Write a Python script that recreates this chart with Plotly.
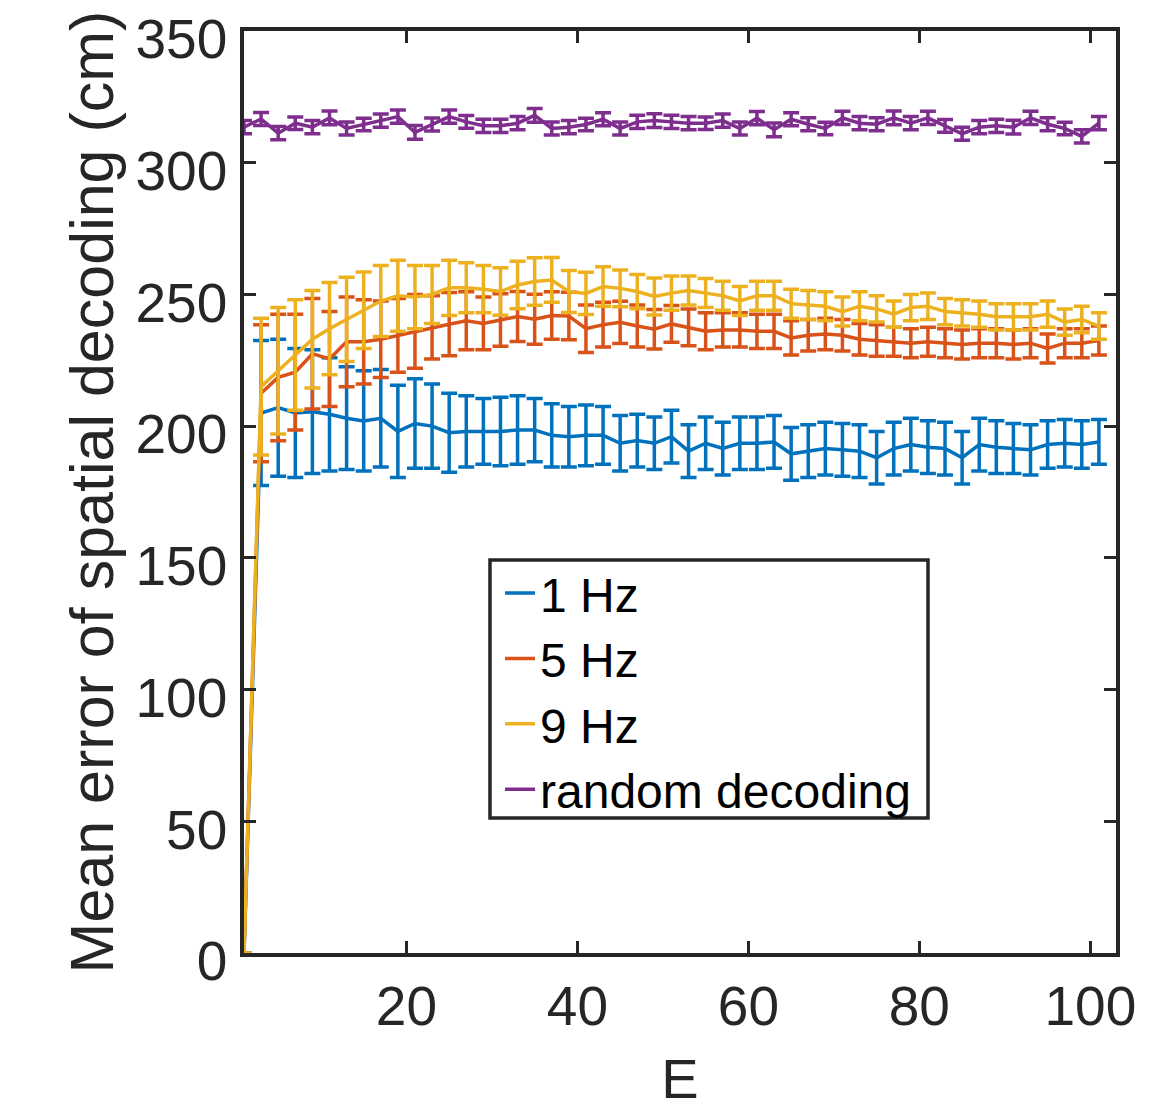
import plotly.graph_objects as go

E = list(range(1, 102, 2))

hz1_mean = [0, 205, 207, 205, 205.5, 204.5, 203, 202, 203, 198, 201, 200, 197.5, 198, 198, 198,
            198.5, 198.5, 196.5, 196, 196.5, 196.5, 193.5, 194.5, 193.5, 196, 190.5, 193.5, 191.5,
            193.5, 193.5, 194, 189.5, 190.5, 191.5, 191, 190.5, 188, 191.5, 193, 192, 191.5, 188,
            193, 192, 191.5, 191, 193, 193.5, 193, 194]
hz1_err = [0, 27.5, 26, 24.5, 23.5, 21.5, 19.5, 19, 18.5, 17.5, 17, 16, 15, 13.5, 12.5, 13, 13, 12,
           12, 11.5, 11.5, 11, 10.5, 10, 10, 10, 10, 10, 10, 10, 10, 10, 10, 10, 10, 10, 10, 10, 10,
           10, 10, 10, 10, 10, 10, 9.5, 9.5, 9, 9, 9, 8.5]

hz5_mean = [0, 212.5, 218.5, 220.5, 227.5, 225.5, 232, 232, 233, 234.5, 236, 237.5, 238.7, 240, 239,
            240.3, 241.6, 240.6, 242, 241.8, 237, 238.5, 239.4, 238, 236.8, 238.8, 237.5, 236, 236.5,
            236.5, 236, 236, 233.5, 234.5, 235, 234.5, 233, 232.5, 232, 231.5, 232, 231.5, 231,
            231.5, 231.5, 231, 231.5, 229.5, 231.5, 231.5, 232.5]
hz5_err = [0, 26, 24, 22, 21, 18, 17, 16, 14.5, 14, 14, 12, 12, 11, 10, 10, 9.5, 9.5, 9, 9, 9, 8.5,
           8, 8, 7.5, 7, 7, 7, 6.5, 6.5, 6.5, 6.5, 6.5, 6, 6, 6, 6, 6, 5.5, 5.5, 5.5, 5.5, 5.5, 5.5,
           5.5, 5.5, 5.5, 5.5, 5.5, 5.5, 5.5]

hz9_mean = [0, 215, 221, 227, 233, 237, 240.5, 244, 247.5, 249.5, 249, 250, 252.5, 252.5, 252, 251.1,
            253.6, 254.9, 255.5, 251.1, 250.4, 253, 252.3, 251.1, 249.2, 250.5, 251.5, 250.5, 249.5,
            247.5, 249.5, 249.5, 246.5, 246, 245.5, 243.5, 245.5, 244.5, 242.5, 245, 245.5, 243.5,
            243, 242.5, 241.5, 241.5, 241.5, 242.5, 239.5, 240.5, 238]
hz9_err = [0, 26, 24, 21, 18.5, 17.5, 16, 14.5, 13.5, 13.5, 12, 11, 10.5, 9.5, 9, 9, 9, 9, 8.5, 8, 8,
           7.5, 7, 6.5, 7, 6.5, 5.5, 5.5, 5.5, 5.5, 5.5, 5.5, 5.5, 5.5, 5.5, 5.5, 5.5, 5, 5, 5, 5, 5,
           5, 5, 5, 5, 5, 5, 5, 5, 5]

rand_mean = [313.5, 316.6, 311.2, 315, 313.5, 317, 313, 314.5, 316, 317.5, 311.5, 314.5, 317.5, 315.5,
             314, 314, 315, 318, 313, 313.5, 314.5, 316.5, 313, 315.5, 316, 315.5, 315, 315, 316, 313,
             316.9, 312.5, 316.5, 314.6, 313, 317, 315, 314.6, 317, 315, 317, 314, 311, 313.5, 314,
             313.5, 317, 314.6, 313, 310, 315]
rand_err = [2.5, 2.5, 2.5, 2.4, 2.5, 2.6, 2.5, 2.4, 2.5, 2.5, 2.6, 2.5, 2.5, 2.4, 2.5, 2.5, 2.5, 2.6,
            2.5, 2.5, 2.4, 2.5, 2.5, 2.5, 2.6, 2.5, 2.5, 2.4, 2.5, 2.5, 2.5, 2.6, 2.5, 2.5, 2.4, 2.5,
            2.5, 2.5, 2.6, 2.5, 2.5, 2.4, 2.5, 2.5, 2.5, 2.6, 2.5, 2.5, 2.4, 2.5, 2.5]

series = [
    ("1 Hz", hz1_mean, hz1_err, "#0072BD"),
    ("5 Hz", hz5_mean, hz5_err, "#D95319"),
    ("9 Hz", hz9_mean, hz9_err, "#EDB120"),
    ("random decoding", rand_mean, rand_err, "#7E2F8E"),
]

x_ticks = [20, 40, 60, 80, 100]
y_ticks = [0, 50, 100, 150, 200, 250, 300, 350]

FONT = "Liberation Sans, Arial, Helvetica, sans-serif"
AX = "#262626"

fig = go.Figure()
for name, m, e, c in series:
    fig.add_trace(go.Scatter(
        x=E, y=m, name=name, mode="lines",
        line=dict(color=c, width=3.5),
        error_y=dict(type="data", array=e, visible=True, color=c, thickness=3.5, width=8),
    ))

axis_common = dict(
    showline=True, linewidth=3.5, linecolor=AX, mirror="ticks",
    ticks="inside", ticklen=12, tickwidth=3, tickcolor=AX,
    showgrid=False, zeroline=False, automargin=False,
    ticklabeloverflow="allow",
    tickfont=dict(family=FONT, size=55, color=AX),
)

# page body has an 8px margin; figure sized so the plot area lands at x 244-1116, y 31-953
fig.update_layout(
    width=1161, height=1112,
    margin=dict(l=236, r=53, t=23, b=167, autoexpand=False),
    plot_bgcolor="white", paper_bgcolor="white",
    font=dict(family=FONT, color=AX),
    xaxis=dict(range=[1, 103], tickvals=x_ticks, ticklabelstandoff=2,
               title=dict(text="E", font=dict(family=FONT, size=56, color=AX), standoff=24),
               **axis_common),
    yaxis=dict(range=[0, 350], tickvals=y_ticks, ticklabelstandoff=2, ticklabelshift=8,
               title=dict(text="Mean error of spatial decoding (cm)",
                          font=dict(family=FONT, size=61, color=AX), standoff=3),
               **axis_common),
    legend=dict(x=0.2936, y=0.4313, xanchor="left", yanchor="top",
                bgcolor="rgba(0,0,0,0)", borderwidth=0,
                font=dict(family=FONT, size=48, color="#000000"),
                tracegroupgap=0, itemwidth=30),
    shapes=[dict(type="rect", xref="paper", yref="paper",
                 x0=0.2821, x1=0.7844, y0=0.1464, y1=0.4262,
                 line=dict(color=AX, width=3.5), fillcolor="white", layer="below")],
    showlegend=True,
)

fig.write_html("out.html")
